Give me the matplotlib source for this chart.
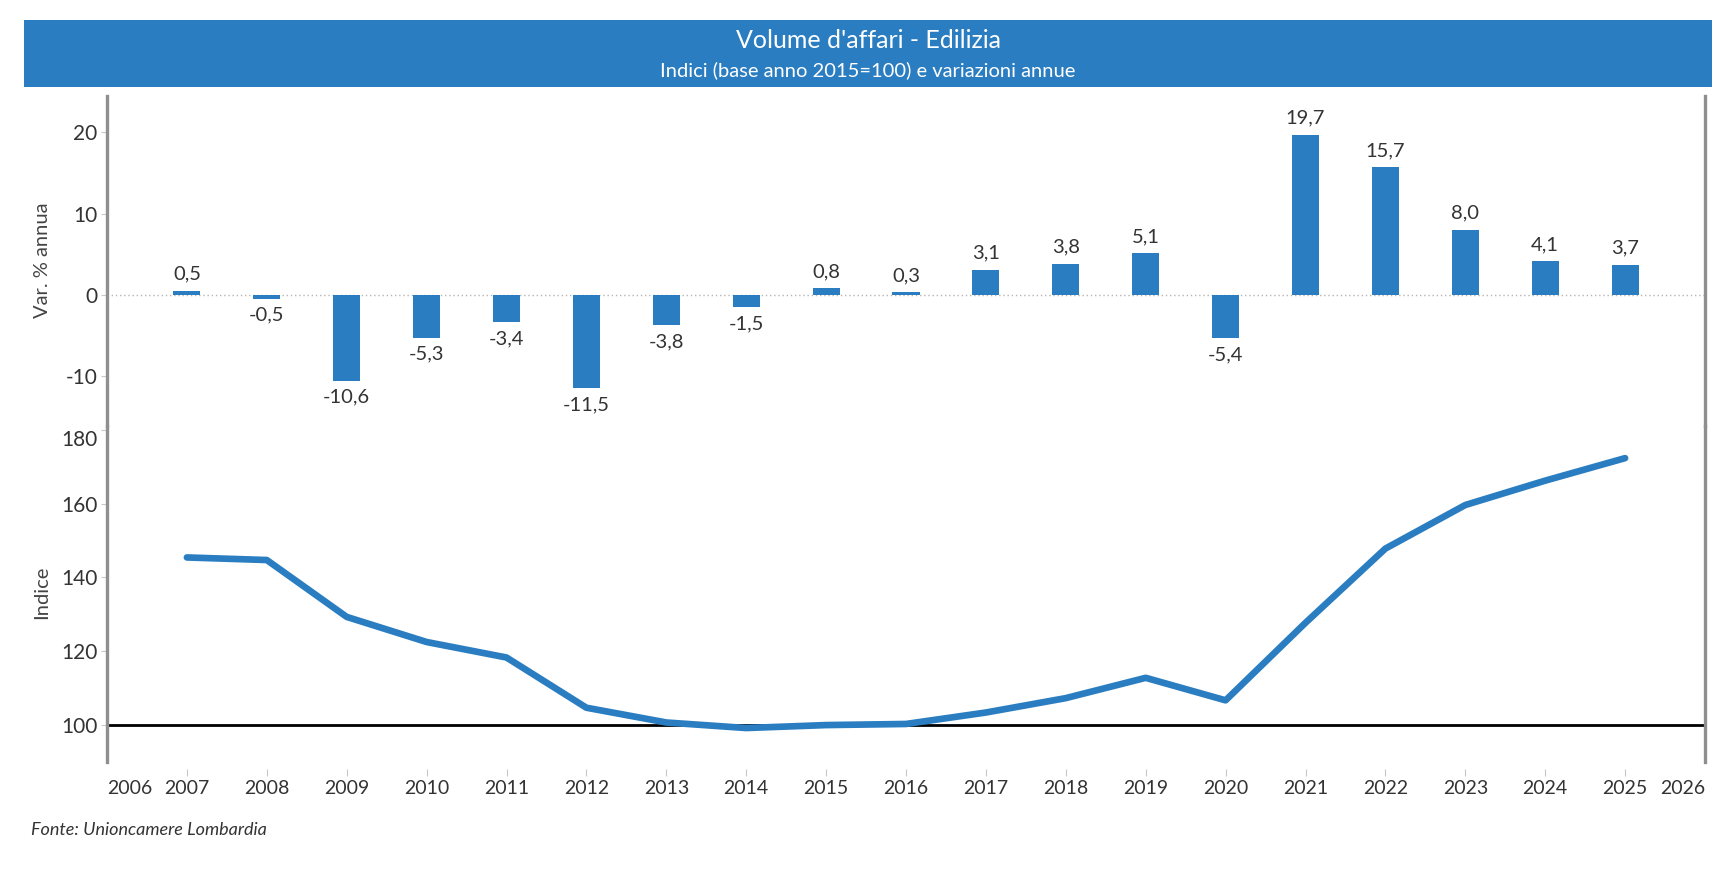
import matplotlib
matplotlib.use("Agg")
import matplotlib.pyplot as plt
from matplotlib.patches import Rectangle
from matplotlib.ticker import FuncFormatter

plt.rcParams['font.family'] = ['Lato', 'DejaVu Sans']

years = [2007, 2008, 2009, 2010, 2011, 2012, 2013, 2014, 2015, 2016,
         2017, 2018, 2019, 2020, 2021, 2022, 2023, 2024, 2025]
var_pct = [0.5, -0.5, -10.6, -5.3, -3.4, -11.5, -3.8, -1.5, 0.8, 0.3,
           3.1, 3.8, 5.1, -5.4, 19.7, 15.7, 8.0, 4.1, 3.7]
indice = [145.4, 144.7, 129.3, 122.5, 118.3, 104.7, 100.7, 99.2, 100.0, 100.3,
          103.4, 107.3, 112.8, 106.7, 127.7, 147.8, 159.6, 166.2, 172.3]
xtick_years = list(range(2006, 2027))
top_ticks = [-10, 0, 10, 20]
bottom_ticks = [100, 120, 140, 160, 180]

title = "Volume d'affari - Edilizia"
subtitle = "Indici (base anno 2015=100) e variazioni annue"
source = "Fonte: Unioncamere Lombardia"

BLUE = '#2a7dc1'
GREY_AX = '#8f8f8f'
TXT = '#333333'

W, H = 1736, 880
fig = plt.figure(figsize=(W / 100, H / 100), dpi=100)

def fx(px):
    return px / W

def fy(py):
    return 1 - py / H

# title bar
fig.patches.append(Rectangle((fx(24), fy(87)), fx(1712) - fx(24), fy(20) - fy(87),
                             transform=fig.transFigure, facecolor=BLUE,
                             edgecolor='none', zorder=0))
fig.text(0.5, fy(41), title, color='white', fontsize=18, ha='center', va='center')
fig.text(0.5, fy(70), subtitle, color='white', fontsize=14.5, ha='center', va='center')

left, right = 107, 1705
ax1 = fig.add_axes([fx(left), fy(426), fx(right) - fx(left), fy(96) - fy(426)])
ax2 = fig.add_axes([fx(left), fy(762), fx(right) - fx(left), fy(426) - fy(762)])

hyphen = FuncFormatter(lambda v, p: f"{v:.0f}".replace('\u2212', '-'))

for ax in (ax1, ax2):
    ax.set_xlim(2006, 2026)
    for s in ('top', 'bottom'):
        ax.spines[s].set_visible(False)
    for s in ('left', 'right'):
        ax.spines[s].set_color(GREY_AX)
        ax.spines[s].set_linewidth(2.4)
    ax.tick_params(axis='y', which='both', direction='out', length=4, width=0.8,
                   color='#c8c8c8', labelsize=15, labelcolor=TXT, pad=3)
    ax.yaxis.set_major_formatter(hyphen)
    ax.patch.set_alpha(0)

# top panel: bars
ax1.set_ylim(-16.2, 24.5)
ax1.axhline(0, color='#b5b5b5', lw=1.0, ls=(0, (1, 2)), zorder=1)
ax1.bar(years, var_pct, width=0.34, color=BLUE, zorder=2)
for x, v in zip(years, var_pct):
    lab = f"{v:.1f}".replace('.', ',')
    off = 12 if v >= 0 else -12
    ax1.annotate(lab, (x, v), xytext=(0, off), textcoords='offset points',
                 ha='center', va='center', fontsize=14.5, color=TXT)
ax1.set_yticks(top_ticks)
ax1.set_xticks([])

# bottom panel: line
ax2.set_ylim(90, 181)
ax2.axhline(100, color='black', lw=2.0, zorder=2)
ax2.plot(years, indice, color=BLUE, lw=4.8, solid_capstyle='round',
         solid_joinstyle='round', zorder=3)
ax2.set_yticks(bottom_ticks)
for t in ax2.get_yticklabels():
    if t.get_text() == '180':
        t.set_verticalalignment('top')

ax2.set_xticks(xtick_years)
ax2.set_xticklabels([str(y) for y in xtick_years])
ax2.spines['bottom'].set_position(('outward', 5))
ax2.tick_params(axis='x', direction='out', length=5, width=0.8, color='#c8c8c8',
                labelsize=14, labelcolor=TXT, pad=3)
ticks = ax2.xaxis.get_major_ticks()
ticks[0].tick1line.set_visible(False)
ticks[-1].tick1line.set_visible(False)
labs = ax2.get_xticklabels()
labs[0].set_horizontalalignment('left')
labs[-1].set_horizontalalignment('right')

# axis titles
fig.text(fx(42), fy(260), 'Var. % annua', rotation=90, fontsize=14.5, color='#444444',
         ha='center', va='center')
fig.text(fx(42), fy(592), 'Indice', rotation=90, fontsize=14.5, color='#444444',
         ha='center', va='center')

fig.text(fx(31), fy(830), source, fontsize=13, style='italic', color='#333333',
         ha='left', va='center')

fig.savefig('out.png', dpi=100)
